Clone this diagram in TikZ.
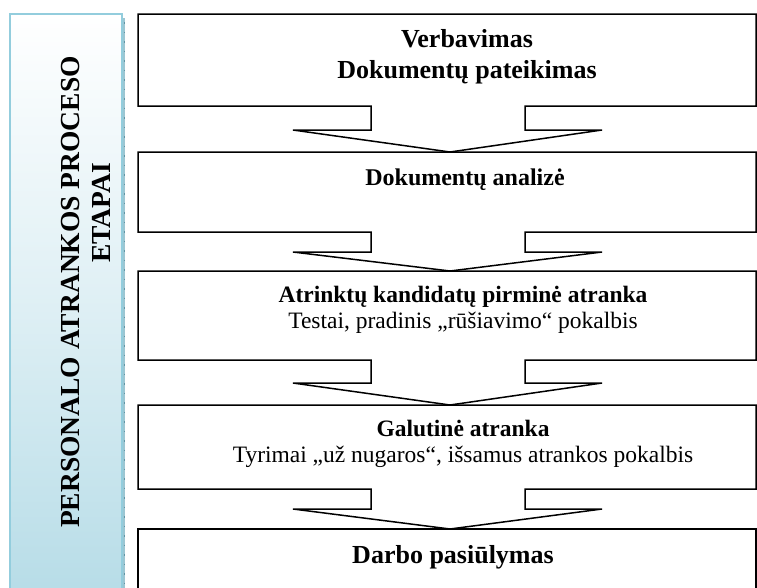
\documentclass[tikz,border=0pt]{standalone}
\usepackage{fontspec}
\setmainfont{Liberation Serif}
\definecolor{barline}{HTML}{93CDDD}
\definecolor{barfill}{HTML}{B6DCE7}
\definecolor{barshadow}{HTML}{9CC6D2}
\definecolor{barticks}{HTML}{5F95A5}
\begin{document}
\begin{tikzpicture}[x=1pt,y=-1pt,
  stage/.style={draw=black,line width=1.5pt,line join=miter,fill=white},
  title/.style={font=\fontsize{24}{29}\selectfont\bfseries,align=center,inner sep=0pt},
  bartext/.style={font=\fontsize{27.5}{31}\selectfont\bfseries,rotate=90,inner sep=0pt}]
\useasboundingbox (0,0) rectangle (757,587);

% side bar with vertical gradient and a shadowed right edge
\shade[top color=white,bottom color=barfill,middle color=barfill!45] (10,14) rectangle (122,600);
\draw[barshadow,line width=2pt] (124,18) -- (124,600);
\draw[barticks,line width=1pt,dash pattern=on 1.5pt off 8pt] (124.5,22) -- (124.5,600);
\draw[barline,line width=1.6pt] (10,600) -- (10,14) -- (122,14) -- (122,600);
\node[bartext] (barA) at (71,292) {PERSONALO ATRANKOS PROCESO};
\node[bartext] (barB) at (101,213) {ETAPAI};

% stage boxes, each with its downward arrow cut into the lower edge
\foreach \t/\b/\n/\p in {14/106/130/152, 152/232/252/271, 271/360/383/405, 405/489/509/529}{
  \draw[stage] (138,\t) -- (756,\t) -- (756,\b) -- (525,\b) -- (525,\n) -- (602,\n)
    -- (450,\p) -- (293,\n) -- (371,\n) -- (371,\b) -- (138,\b) -- cycle;
}
\draw[stage,line width=1.8pt] (138,595) -- (138,529) -- (756,529) -- (756,595);

\node[title,font=\fontsize{26}{31}\selectfont\bfseries] (s1) at (467,57) {Verbavimas\\Dokumentų pateikimas};
\node[title] (s2) at (465,180) {Dokumentų analizė};
\node[title,font=\fontsize{23.5}{26}\selectfont] (s3) at (463,310) {\textbf{Atrinktų kandidatų pirminė atranka}\\Testai, pradinis „rūšiavimo“ pokalbis};
\node[title,font=\fontsize{23.5}{26}\selectfont] (s4) at (463,444) {\textbf{Galutinė atranka}\\Tyrimai „už nugaros“, išsamus atrankos pokalbis};
\node[title,font=\fontsize{26}{31}\selectfont\bfseries] (s5) at (453,557) {Darbo pasiūlymas};
\end{tikzpicture}
\end{document}
